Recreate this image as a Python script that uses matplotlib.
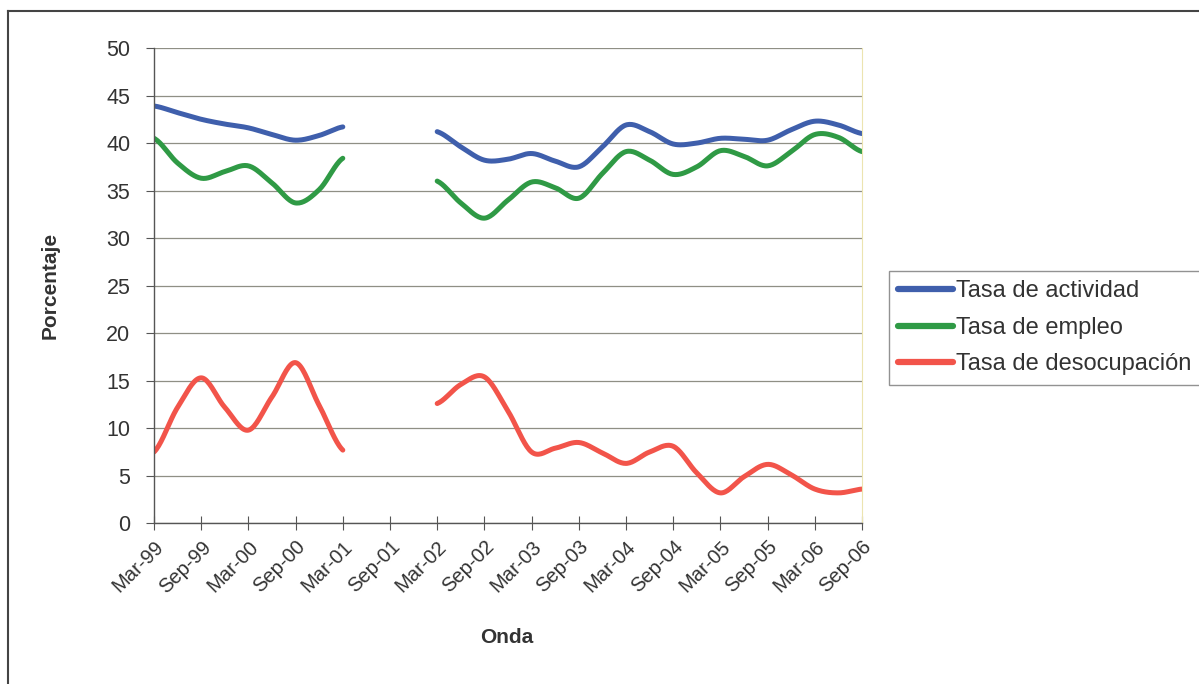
import numpy as np
import matplotlib.pyplot as plt
from matplotlib.lines import Line2D

plt.rcParams['font.family'] = ['Liberation Sans', 'DejaVu Sans']

# ondas trimestrales Mar-99 ... Sep-06 (etiqueta cada 2)
labels = ['Mar-99', 'Sep-99', 'Mar-00', 'Sep-00', 'Mar-01', 'Sep-01', 'Mar-02', 'Sep-02',
          'Mar-03', 'Sep-03', 'Mar-04', 'Sep-04', 'Mar-05', 'Sep-05', 'Mar-06', 'Sep-06']
nan = np.nan

actividad = [43.9, 43.2, 42.5, 42.0, 41.6, 40.9, 40.3, 40.8, 41.7,
             nan, nan, nan,
             41.2, 39.6, 38.2, 38.3, 38.9, 38.1, 37.5, 39.6, 41.9, 41.2,
             39.9, 40.0, 40.5, 40.4, 40.3, 41.4, 42.3, 41.9, 41.0]
empleo = [40.5, 37.9, 36.3, 37.0, 37.6, 35.8, 33.7, 35.1, 38.4,
          nan, nan, nan,
          36.0, 33.7, 32.1, 34.0, 35.9, 35.3, 34.2, 36.8, 39.1, 38.2,
          36.7, 37.5, 39.2, 38.6, 37.6, 39.1, 40.9, 40.6, 39.1]
desocupacion = [7.5, 12.2, 15.3, 12.2, 9.8, 13.3, 16.9, 12.4, 7.7,
                nan, nan, nan,
                12.6, 14.6, 15.4, 11.8, 7.5, 7.9, 8.5, 7.4, 6.3, 7.5,
                8.1, 5.3, 3.2, 4.9, 6.2, 5.1, 3.6, 3.2, 3.6]

series = [('Tasa de actividad', actividad, '#3f5fac'),
          ('Tasa de empleo', empleo, '#2f9a45'),
          ('Tasa de desocupación', desocupacion, '#f2544a')]


def suave(x, y, n=20):
    # curva suavizada tipo Excel (Catmull-Rom) por tramo continuo
    xs, ys = [], []
    for i in range(len(x) - 1):
        p0 = y[i - 1] if i > 0 else y[i]
        p3 = y[i + 2] if i + 2 < len(y) else y[i + 1]
        t = np.linspace(0, 1, n, endpoint=False)
        p1, p2 = y[i], y[i + 1]
        yy = 0.5 * ((2 * p1) + (-p0 + p2) * t + (2 * p0 - 5 * p1 + 4 * p2 - p3) * t ** 2
                    + (-p0 + 3 * p1 - 3 * p2 + p3) * t ** 3)
        xs.extend(x[i] + t * (x[i + 1] - x[i]))
        ys.extend(yy)
    xs.append(x[-1])
    ys.append(y[-1])
    return np.array(xs), np.array(ys)


fig = plt.figure(figsize=(11.99, 6.84), dpi=100)
ax = fig.add_axes([154 / 1199, 1 - 523.3 / 684, (862 - 154) / 1199, (523.3 - 48) / 684])

for nombre, vals, color in series:
    v = np.array(vals, dtype=float)
    idx = np.arange(len(v))
    ok = ~np.isnan(v)
    # separar tramos continuos
    cortes = np.split(idx[ok], np.where(np.diff(idx[ok]) > 1)[0] + 1)
    for tramo in cortes:
        xs, ys = suave(tramo.astype(float), v[tramo])
        ax.plot(xs, ys, color=color, lw=3.6, solid_capstyle='round')

ax.set_xlim(0, 30)
ax.set_ylim(0, 50)
ax.set_yticks(range(0, 51, 5))
ax.set_xticks(range(0, 31, 2))
ax.set_xticklabels(labels, rotation=45, ha='right', rotation_mode='anchor', fontsize=14.5, color='#333333')
ax.tick_params(axis='y', labelsize=15.5, labelcolor='#333333', color='#555555', length=6,
               direction='out', pad=11)
ax.tick_params(axis='x', color='#555555', length=10, direction='inout', pad=5)
ax.grid(axis='y', color='#8f8f85', lw=0.9)
ax.set_axisbelow(True)
for s in ['left', 'bottom']:
    ax.spines[s].set_color('#555555')
    ax.spines[s].set_linewidth(1.0)
ax.spines['top'].set_visible(False)
ax.spines['right'].set_color('#ece4b0')

ax.set_ylabel('Porcentaje', fontsize=15, fontweight='bold', color='#333333')
ax.set_xlabel('Onda', fontsize=15, fontweight='bold', color='#333333')
ax.yaxis.set_label_coords(-0.134, 0.5)
ax.xaxis.set_label_coords(0.4986, -0.22)

handles = [Line2D([0], [0], color=c, lw=4.5, solid_capstyle='round') for _, _, c in series]
leg = fig.legend(handles, [n for n, _, _ in series], loc='upper left',
                 bbox_to_anchor=(889 / 1199, 1 - 270.7 / 684), frameon=True, fancybox=False,
                 fontsize=17, handlelength=2.3, handletextpad=0.15, labelspacing=0.62,
                 borderpad=0.4, borderaxespad=0)
leg.get_frame().set_edgecolor('#777777')
leg.get_frame().set_linewidth(1.0)
for t in leg.get_texts():
    t.set_color('#333333')

# marco exterior del gráfico
fig.add_artist(Line2D([8 / 1199, 8 / 1199], [0, 1 - 11 / 684], transform=fig.transFigure, color='#444444', lw=1.5))
fig.add_artist(Line2D([8 / 1199, 1], [1 - 11 / 684, 1 - 11 / 684], transform=fig.transFigure, color='#444444', lw=1.5))

fig.savefig('out.png', dpi=100)
